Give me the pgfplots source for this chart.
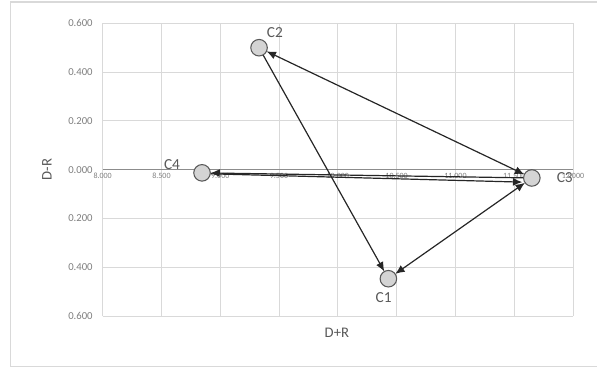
\documentclass[border=0pt]{standalone}
\usepackage{pgfplots}
\pgfplotsset{compat=1.18}
\usepackage{fontspec}
\setmainfont{Carlito}
\usetikzlibrary{arrows.meta}
\definecolor{gridgray}{HTML}{D9D9D9}
\definecolor{txtgray}{HTML}{7F7F7F}
\definecolor{lblgray}{HTML}{595959}
\definecolor{arrowgray}{HTML}{262626}
\definecolor{dotfill}{HTML}{D4D4D4}

\begin{document}
\begin{tikzpicture}
% 1 px of the reference = 0.75pt
\useasboundingbox (-77pt,-38.25pt) rectangle (370.7pt,237pt);
\draw[gridgray, line width=0.8pt] (-68.8pt,-37.5pt) rectangle (380pt,235.5pt);
\begin{axis}[
    scale only axis,
    width=352.7pt,
    height=219.5pt,
    at={(0pt,0pt)}, anchor=south west,
    xmin=8, xmax=12,
    ymin=-0.6, ymax=0.6,
    xtick={8,8.5,9,9.5,10,10.5,11,11.5,12},
    xticklabels={8.000,8.500,9.000,9.500,10.000,10.500,11.000,11.500,12.000},
    ytick={-0.6,-0.4,-0.2,0,0.2,0.4,0.6},
    yticklabels={0.600,0.400,0.200,0.000,0.200,0.400,0.600},
    axis x line=middle,
    axis y line=left,
    hide obscured x ticks=false,
    hide obscured y ticks=false,
    axis line style={-, gridgray, line width=0.8pt},
    x axis line style={-, black!45, line width=0.6pt},
    major tick length=0pt,
    grid=major,
    major grid style={gridgray, line width=0.6pt},
    x tick label style={font=\fontsize{6}{6}\selectfont, text=txtgray, yshift=1pt},
    y tick label style={font=\fontsize{8}{8}\selectfont, text=txtgray, xshift=-4pt},
    clip=false,
]
% C2 <-> C3
\addplot[arrowgray, line width=0.9pt, {Latex[length=7pt,width=6pt]}-{Latex[length=7pt,width=6pt]}, shorten <=6.3pt, shorten >=6.3pt]
    coordinates {(9.33,0.500) (11.65,-0.034)};
% C2 -> C1
\addplot[arrowgray, line width=0.9pt, -{Latex[length=7pt,width=6pt]}, shorten <=6.3pt, shorten >=6.3pt]
    coordinates {(9.33,0.500) (10.43,-0.447)};
% C1 <-> C3
\addplot[arrowgray, line width=0.9pt, {Latex[length=7pt,width=6pt]}-{Latex[length=7pt,width=6pt]}, shorten <=6.3pt, shorten >=6.3pt]
    coordinates {(10.43,-0.447) (11.65,-0.034)};
% C3 -> C4
\addplot[arrowgray, line width=0.9pt, -{Latex[length=7pt,width=6pt]}, shorten <=6.3pt, shorten >=6.3pt]
    coordinates {(11.65,-0.034) (8.845,-0.013)};
% C4 -> C3
\addplot[arrowgray, line width=0.9pt, -{Latex[length=7pt,width=6pt]}, shorten <=6.3pt, shorten >=6.3pt]
    coordinates {(8.845,-0.016) (11.64,-0.052)};
% points
\addplot[only marks, mark=*, mark size=6.2pt, mark options={fill=dotfill, draw=lblgray, line width=0.8pt}]
    coordinates {(10.43,-0.447) (9.33,0.500) (11.65,-0.034) (8.845,-0.013)};
\node[text=lblgray, font=\fontsize{11.5}{11.5}\selectfont] at (axis cs:10.39,-0.526) {C1};
\node[text=lblgray, font=\fontsize{11.5}{11.5}\selectfont] at (axis cs:9.465,0.564) {C2};
\node[text=lblgray, font=\fontsize{11.5}{11.5}\selectfont] at (axis cs:11.93,-0.034) {C3};
\node[text=lblgray, font=\fontsize{11.5}{11.5}\selectfont] at (axis cs:8.59,0.019) {C4};
\node[text=lblgray, font=\fontsize{11}{11}\selectfont] at (rel axis cs:0.498,0) [yshift=-12.75pt] {D+R};
\node[text=lblgray, font=\fontsize{11}{11}\selectfont, rotate=90, yshift=41.8pt] at (rel axis cs:0,0.5) {D-R};
\end{axis}
\end{tikzpicture}
\end{document}
